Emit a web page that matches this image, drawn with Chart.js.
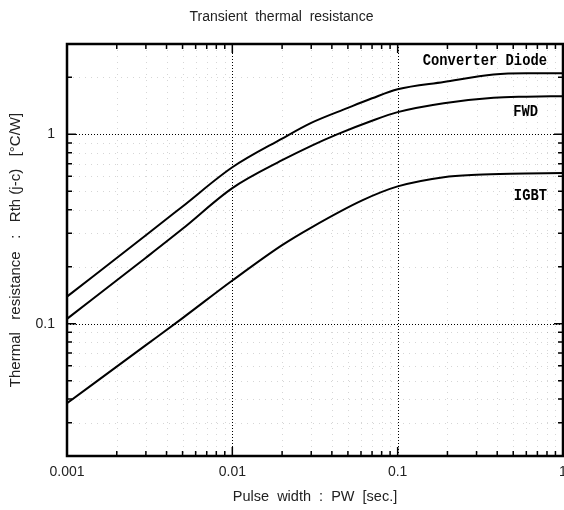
<!DOCTYPE html>
<html><head><meta charset="utf-8">
<script src="https://cdn.jsdelivr.net/npm/chart.js@4/dist/chart.umd.min.js"></script>
<style>html,body{margin:0;padding:0;background:#fff}</style>
</head><body>
<canvas id="c" width="564" height="510"></canvas>
<script>
// ---- data ----
const titleText = 'Transient  thermal  resistance';
const xTitle = 'Pulse  width  :  PW  [sec.]';
const yTitle = 'Thermal   resistance   :   Rth (j-c)   [°C/W]';

const xTickValues = [0.001, 0.01, 0.1, 1];
const xTickLabels = ['0.001', '0.01', '0.1', '1'];
const yTickValues = [0.1, 1];
const yTickLabels = ['0.1', '1'];

const convX = [0.001, 0.003, 0.005, 0.01, 0.02, 0.03, 0.05, 0.07, 0.1, 0.19, 0.38, 0.6, 1];
const convY = [0.139, 0.293, 0.416, 0.67, 0.95, 1.15, 1.38, 1.55, 1.73, 1.89, 2.07, 2.10, 2.10];

const fwdX = [0.001, 0.003, 0.005, 0.01, 0.02, 0.03, 0.043, 0.07, 0.1, 0.19, 0.38, 0.6, 1];
const fwdY = [0.106, 0.223, 0.317, 0.52, 0.73, 0.87, 1.0, 1.18, 1.31, 1.46, 1.56, 1.58, 1.59];

const igbtX = [0.001, 0.003, 0.005, 0.01, 0.02, 0.03, 0.061, 0.1, 0.19, 0.3, 0.48, 1];
const igbtY = [0.038, 0.077, 0.107, 0.169, 0.26, 0.322, 0.448, 0.531, 0.594, 0.612, 0.62, 0.624];

const seriesNames = ['Converter Diode', 'FWD', 'IGBT'];
// label anchors (data units: right edge x, vertical centre y)
const labelAnchorX = [0.80, 0.706, 0.80];
const labelAnchorY = [2.43, 1.32, 0.476];

// ---- chart ----
const pts = (xs, ys) => xs.map((x, i) => ({x, y: ys[i]}));
const fontFam = '"Liberation Sans", Arial, sans-serif';
const txtColor = '#222';

function minorValues(min, max) {
  const out = [];
  for (let d = 1e-4; d <= 10; d *= 10) {
    for (let m = 2; m <= 9; m++) {
      const v = +(d * m).toPrecision(6);
      if (v > min * 1.0001 && v < max * 0.9999) out.push(v);
    }
  }
  return out;
}

const framePlugin = {
  id: 'framePlugin',
  beforeDatasetsDraw(chart) {
    const {ctx, chartArea: a, scales: {x, y}} = chart;
    ctx.save();
    ctx.lineWidth = 1;
    // minor grid (faint, broken)
    ctx.strokeStyle = 'rgba(0,0,0,0.16)';
    ctx.setLineDash([1, 5]);
    minorValues(x.min, x.max).forEach(v => {
      const p = Math.round(x.getPixelForValue(v)) + 0.5;
      ctx.beginPath(); ctx.moveTo(p, a.top); ctx.lineTo(p, a.bottom); ctx.stroke();
    });
    minorValues(y.min, y.max).forEach(v => {
      const p = Math.round(y.getPixelForValue(v)) + 0.5;
      ctx.beginPath(); ctx.moveTo(a.left, p); ctx.lineTo(a.right, p); ctx.stroke();
    });
    // major grid
    ctx.strokeStyle = '#000';
    ctx.setLineDash([1, 2]);
    xTickValues.forEach(v => {
      if (v <= x.min || v >= x.max) return;
      const p = Math.round(x.getPixelForValue(v)) + 0.5;
      ctx.beginPath(); ctx.moveTo(p, a.top); ctx.lineTo(p, a.bottom); ctx.stroke();
    });
    yTickValues.forEach(v => {
      if (v <= y.min || v >= y.max) return;
      const p = Math.round(y.getPixelForValue(v)) + 0.5;
      ctx.beginPath(); ctx.moveTo(a.left, p); ctx.lineTo(a.right, p); ctx.stroke();
    });
    ctx.restore();
  },
  afterDatasetsDraw(chart) {
    const {ctx, chartArea: a, scales: {x, y}} = chart;
    ctx.save();
    ctx.strokeStyle = '#000';
    ctx.setLineDash([]);
    // inward ticks
    ctx.lineWidth = 1.5;
    const tick = (isX, v, len) => {
      if (isX) {
        const p = x.getPixelForValue(v);
        ctx.beginPath(); ctx.moveTo(p, a.bottom); ctx.lineTo(p, a.bottom - len);
        ctx.moveTo(p, a.top); ctx.lineTo(p, a.top + len); ctx.stroke();
      } else {
        const p = y.getPixelForValue(v);
        ctx.beginPath(); ctx.moveTo(a.left, p); ctx.lineTo(a.left + len, p);
        ctx.moveTo(a.right, p); ctx.lineTo(a.right - len, p); ctx.stroke();
      }
    };
    minorValues(x.min, x.max).forEach(v => tick(true, v, 5));
    xTickValues.forEach(v => tick(true, v, 9));
    minorValues(y.min, y.max).forEach(v => tick(false, v, 5));
    yTickValues.forEach(v => tick(false, v, 9));
    // frame
    ctx.lineWidth = 2.5;
    ctx.strokeRect(a.left, a.top, a.right - a.left, a.bottom - a.top);
    // series labels
    ctx.fillStyle = '#000';
    ctx.font = 'bold 15px "Liberation Mono", "DejaVu Sans Mono", monospace';
    ctx.textAlign = 'right';
    ctx.textBaseline = 'middle';
    seriesNames.forEach((name, i) => {
      const px = x.getPixelForValue(labelAnchorX[i]);
      const py = y.getPixelForValue(labelAnchorY[i]);
      ctx.save();
      ctx.translate(px, py);
      ctx.scale(0.92, 1.1);
      ctx.fillText(name, 0, 0);
      ctx.restore();
    });
    ctx.restore();
  }
};

const lineStyle = {borderColor: '#000', borderWidth: 2, pointRadius: 0, fill: false, cubicInterpolationMode: 'monotone'};

new Chart(document.getElementById('c'), {
  type: 'line',
  data: {
    datasets: [
      Object.assign({label: seriesNames[0], data: pts(convX, convY)}, lineStyle),
      Object.assign({label: seriesNames[1], data: pts(fwdX, fwdY)}, lineStyle),
      Object.assign({label: seriesNames[2], data: pts(igbtX, igbtY)}, lineStyle)
    ]
  },
  options: {
    responsive: false,
    animation: false,
    devicePixelRatio: 1,
    layout: {padding: {left: 0, right: 1, top: 0, bottom: 0}},
    plugins: {
      legend: {display: false},
      tooltip: {enabled: false},
      title: {
        display: true, text: titleText, color: txtColor,
        font: {family: fontFam, size: 14, weight: 'normal', lineHeight: 1.2},
        padding: {top: 9, bottom: 18.2}
      }
    },
    scales: {
      x: {
        type: 'logarithmic', min: 0.001, max: 1,
        grid: {display: false, drawTicks: false}, border: {display: false},
        ticks: {
          color: txtColor, font: {family: fontFam, size: 14}, padding: 8,
          maxRotation: 0, autoSkip: false,
          callback: (v, i) => xTickLabels[i]
        },
        afterBuildTicks: s => { s.ticks = xTickValues.map(v => ({value: v})); },
        afterFit: s => { s.height = 54; s.paddingLeft = 0; s.paddingRight = 0; },
        title: {display: true, text: xTitle, color: txtColor,
                font: {family: fontFam, size: 14.5, lineHeight: 1.2}, padding: {top: 0, bottom: 4}}
      },
      y: {
        type: 'logarithmic', min: 0.02, max: 3,
        grid: {display: false, drawTicks: false}, border: {display: false},
        ticks: {
          color: txtColor, font: {family: fontFam, size: 14}, padding: 12,
          autoSkip: false,
          callback: (v, i) => yTickLabels[i]
        },
        afterBuildTicks: s => { s.ticks = yTickValues.map(v => ({value: v})); },
        afterFit: s => { s.width = 67; s.paddingTop = 0; s.paddingBottom = 0; },
        title: {display: true, text: yTitle, color: txtColor,
                font: {family: fontFam, size: 15, lineHeight: 1.2}, padding: {top: 6.5, bottom: 0}}
      }
    }
  },
  plugins: [framePlugin]
});
</script>
</body></html>
